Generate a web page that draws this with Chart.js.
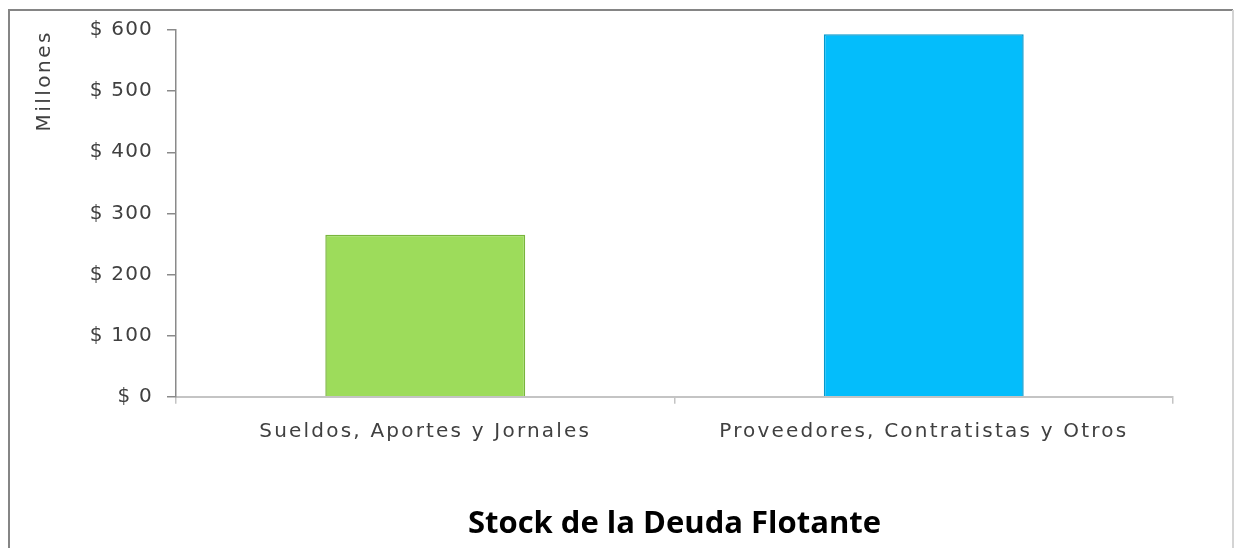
<!DOCTYPE html>
<html>
<head>
<meta charset="utf-8">
<script src="https://cdn.jsdelivr.net/npm/chart.js@4"></script>
<style>
  html, body { margin: 0; padding: 0; background: #fff; }
  #wrap { position: absolute; left: 0; top: 0; width: 1236px; height: 548px; }
</style>
</head>
<body>
<div id="wrap"><canvas id="c" width="1236" height="548"></canvas></div>
<script>
const categories = ['Sueldos, Aportes y Jornales', 'Proveedores, Contratistas y Otros'];
const values = [265, 593];
const barColors = ['#9ddc5b', '#04bdfb'];
const barEdges = ['#78b53c', '#0398cc'];
const yTicks = [0, 100, 200, 300, 400, 500, 600];
const chartTitle = 'Stock de la Deuda Flotante';
const yTitle = 'Millones';

const framePlugin = {
  id: 'frame',
  beforeDraw(chart) {
    const ctx = chart.ctx;
    ctx.save();
    ctx.fillStyle = '#fff';
    ctx.fillRect(0, 0, chart.width, chart.height);
    ctx.lineWidth = 2;
    ctx.strokeStyle = '#858585';
    ctx.beginPath();
    ctx.moveTo(9, 548); ctx.lineTo(9, 10); ctx.lineTo(1233, 10);
    ctx.stroke();
    ctx.strokeStyle = '#d4d4d4';
    ctx.beginPath();
    ctx.moveTo(1233, 10); ctx.lineTo(1233, 548);
    ctx.stroke();
    ctx.restore();
  }
};

// Century Gothic-like wide text: add letter spacing to axis text
const spacingPlugin = {
  id: 'spacing',
  beforeDraw(chart) {
    const patch = (scale, method, sp) => {
      if (!scale || scale['_p_' + method]) return;
      const orig = scale[method];
      scale[method] = function (...args) {
        const ctx = this.ctx;
        const prev = ctx.letterSpacing;
        ctx.letterSpacing = sp;
        const r = orig.apply(this, args);
        ctx.letterSpacing = prev;
        return r;
      };
      scale['_p_' + method] = true;
    };
    patch(chart.scales.x, 'drawLabels', '2.2px');
    patch(chart.scales.y, 'drawLabels', '1.2px');
    patch(chart.scales.y, 'drawTitle', '2.5px');
  }
};

new Chart(document.getElementById('c'), {
  type: 'bar',
  data: {
    labels: categories,
    datasets: [{
      data: values,
      backgroundColor: barColors,
      borderColor: barEdges,
      borderWidth: 1.5,
      barPercentage: 0.401,
      categoryPercentage: 1.0
    }]
  },
  plugins: [framePlugin, spacingPlugin],
  options: {
    responsive: false,
    animation: false,
    layout: { padding: { left: 0, right: 63, top: 30, bottom: 0 } },
    plugins: {
      legend: { display: false },
      tooltip: { enabled: false },
      title: {
        display: true,
        text: chartTitle,
        position: 'bottom',
        fullSize: false,
        color: '#000',
        font: { family: 'Open Sans', size: 31, weight: 'bold' },
        padding: { top: 47, bottom: 5 }
      }
    },
    scales: {
      x: {
        grid: { display: true, drawOnChartArea: false, drawTicks: true, tickLength: 7, color: '#c4c4c4', lineWidth: 1.5, offset: true },
        border: { display: true, color: '#c4c4c4', width: 2 },
        ticks: { color: '#404040', padding: 15.5, font: { family: 'DejaVu Sans', size: 20 }, maxRotation: 0 }
      },
      y: {
        min: 0,
        max: 600,
        afterFit(scale) { scale.width = 176; },
        afterBuildTicks(scale) { scale.ticks = yTicks.map(v => ({ value: v })); },
        grid: { display: true, drawOnChartArea: false, drawTicks: true, tickLength: 9, color: '#8a8a8a', lineWidth: 1.5 },
        border: { display: true, color: '#8a8a8a', width: 1.5 },
        ticks: { color: '#404040', padding: 14, font: { family: 'DejaVu Sans', size: 20 }, callback: v => '$ ' + v },
        title: {
          display: true,
          text: yTitle,
          align: 'end',
          color: '#404040',
          font: { family: 'DejaVu Sans', size: 20 },
          padding: { top: 33, bottom: 0 }
        }
      }
    }
  }
});
</script>
</body>
</html>
